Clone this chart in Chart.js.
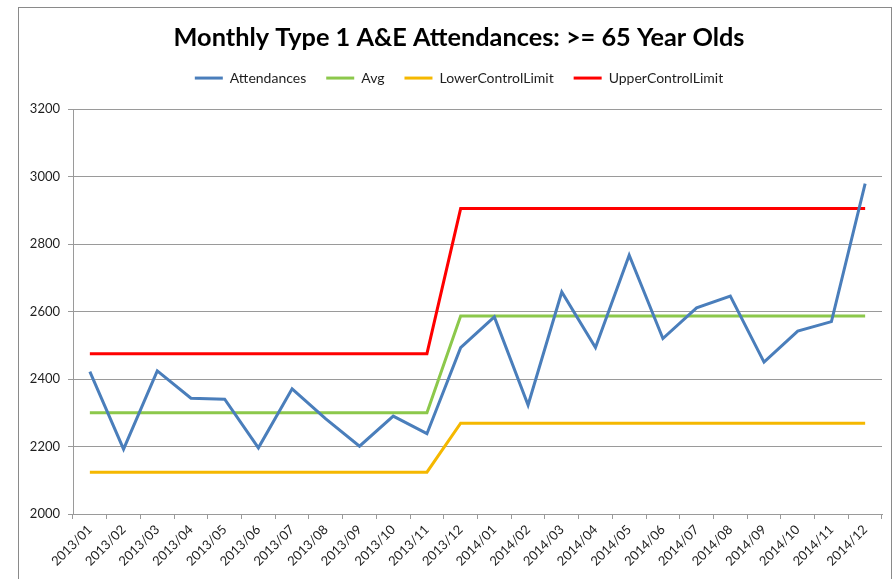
<!DOCTYPE html>
<html>
<head>
<meta charset="utf-8">
<script src="https://cdn.jsdelivr.net/npm/chart.js@4"></script>
<style>
  html, body { margin: 0; padding: 0; background: #fff; }
  #wrap { width: 893px; height: 579px; }
</style>
</head>
<body>
<div id="wrap"><canvas id="chart" width="893" height="579"></canvas></div>
<script>
// Month labels
const months = [
  '2013/01', '2013/02', '2013/03', '2013/04', '2013/05', '2013/06',
  '2013/07', '2013/08', '2013/09', '2013/10', '2013/11', '2013/12',
  '2014/01', '2014/02', '2014/03', '2014/04', '2014/05', '2014/06',
  '2014/07', '2014/08', '2014/09', '2014/10', '2014/11', '2014/12'
];

// Series values
const attendances = [
  2422, 2192, 2424, 2343, 2340, 2196, 2371, 2282, 2201, 2290, 2238, 2493,
  2584, 2323, 2658, 2493, 2767, 2520, 2611, 2646, 2450, 2542, 2570, 2979
];
const avg = [
  2300, 2300, 2300, 2300, 2300, 2300, 2300, 2300, 2300, 2300, 2300, 2587,
  2587, 2587, 2587, 2587, 2587, 2587, 2587, 2587, 2587, 2587, 2587, 2587
];
const lowerControlLimit = [
  2124, 2124, 2124, 2124, 2124, 2124, 2124, 2124, 2124, 2124, 2124, 2269,
  2269, 2269, 2269, 2269, 2269, 2269, 2269, 2269, 2269, 2269, 2269, 2269
];
const upperControlLimit = [
  2475, 2475, 2475, 2475, 2475, 2475, 2475, 2475, 2475, 2475, 2475, 2905,
  2905, 2905, 2905, 2905, 2905, 2905, 2905, 2905, 2905, 2905, 2905, 2905
];

// Y axis range
const yMin = 2000;
const yMax = 3200;
const yStep = 200;

const fontFamily = 'Lato, "Liberation Sans", sans-serif';
const textColor = '#1e1e1e';
const gridColor = '#9a9a9a';

// White background and the thin frame round the chart
const framePlugin = {
  id: 'frame',
  beforeDraw(chart) {
    const ctx = chart.ctx;
    ctx.save();
    ctx.fillStyle = '#fff';
    ctx.fillRect(0, 0, chart.width, chart.height);
    ctx.strokeStyle = '#8a8a8a';
    ctx.lineWidth = 1;
    ctx.strokeRect(18.5, 7.5, 873, 620);
    ctx.restore();
  }
};

// title and legend sit centred on the frame, a bit right of the canvas centre
const headerShift = {
  id: 'headerShift',
  afterLayout(chart) {
    [chart.titleBlock, chart.legend].forEach(function(box) {
      if (box) { box.left += 8; box.right += 8; }
    });
  }
};

function series(label, data, color) {
  return {
    label: label,
    data: data,
    borderColor: color,
    backgroundColor: color,
    borderWidth: 3,
    pointRadius: 0,
    pointHoverRadius: 0,
    tension: 0,
    fill: false
  };
}

new Chart(document.getElementById('chart'), {
  type: 'line',
  data: {
    labels: months,
    datasets: [
      series('Attendances', attendances, '#4a7ebb'),
      series('Avg', avg, '#8cc84b'),
      series('LowerControlLimit', lowerControlLimit, '#f5b800'),
      series('UpperControlLimit', upperControlLimit, '#ff0000')
    ]
  },
  options: {
    responsive: false,
    animation: false,
    layout: { padding: { left: 20, right: 11, top: 7, bottom: 0 } },
    plugins: {
      title: {
        display: true,
        text: 'Monthly Type 1 A&E Attendances: >= 65 Year Olds',
        color: '#000',
        font: { family: fontFamily, size: 25.3, weight: 'bold', lineHeight: 1.03 },
        padding: { top: 18, bottom: 0 }
      },
      // empty spacer between legend and plot area
      subtitle: {
        display: true,
        text: '',
        weight: 500,
        font: { size: 1, lineHeight: 1 },
        padding: { top: 13, bottom: 0 }
      },
      legend: {
        display: true,
        position: 'top',
        labels: {
          color: textColor,
          font: { family: fontFamily, size: 14 },
          boxWidth: 28,
          boxHeight: 3,
          padding: 20,
          generateLabels(chart) {
            return Chart.defaults.plugins.legend.labels.generateLabels(chart).map(function(item) {
              item.lineWidth = 0;
              return item;
            });
          }
        }
      },
      tooltip: { enabled: false }
    },
    scales: {
      x: {
        offset: true,
        grid: {
          offset: true,
          drawOnChartArea: false,
          drawTicks: true,
          tickLength: 5,
          color: gridColor
        },
        border: { display: true, color: gridColor, width: 1 },
        ticks: {
          autoSkip: false,
          maxRotation: 45,
          minRotation: 45,
          padding: 3,
          color: textColor,
          font: { family: fontFamily, size: 13 }
        },
        afterFit(scale) { scale.height = 65; }
      },
      y: {
        min: yMin,
        max: yMax,
        grid: {
          color: gridColor,
          tickLength: 5,
          drawTicks: true
        },
        border: { display: true, color: gridColor, width: 1 },
        ticks: {
          stepSize: yStep,
          padding: 8,
          color: textColor,
          font: { family: fontFamily, size: 13 },
          callback(value) { return String(value); }
        },
        afterFit(scale) { scale.width = 53; }
      }
    }
  },
  plugins: [framePlugin, headerShift]
});
</script>
</body>
</html>
